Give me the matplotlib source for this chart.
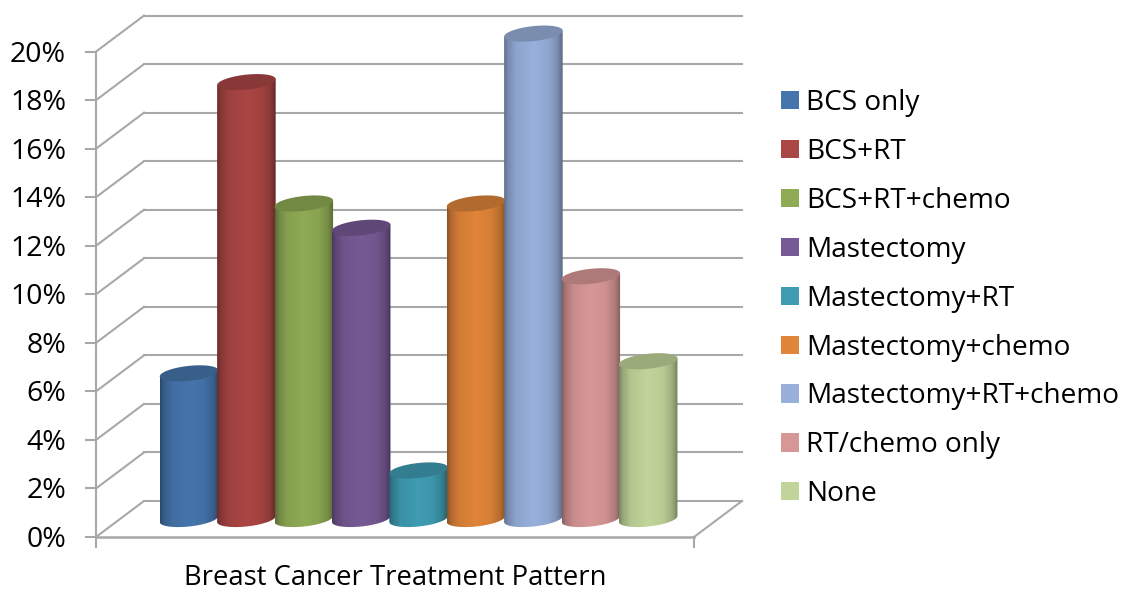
import numpy as np
import matplotlib
matplotlib.use("Agg")
import matplotlib.pyplot as plt
from matplotlib.patches import Polygon, Patch

categories = ["BCS only", "BCS+RT", "BCS+RT+chemo", "Mastectomy", "Mastectomy+RT",
              "Mastectomy+chemo", "Mastectomy+RT+chemo", "RT/chemo only", "None"]
values = [6, 18, 13, 12, 2, 13, 20, 10, 6.5]
colors = ["#4675ad", "#aa4644", "#8fab55", "#775a95", "#3f9cb3",
          "#e08539", "#98b0db", "#d89797", "#c1d59a"]
y_ticks = [0, 2, 4, 6, 8, 10, 12, 14, 16, 18, 20]
x_title = "Breast Cancer Treatment Pattern"

plt.rcParams["font.family"] = ["Open Sans", "DejaVu Sans"]

# one x unit is one category, y is percent
fig = plt.figure(figsize=(11.22, 5.9), dpi=100)
ax = fig.add_axes([0, 0, 1, 1])
ax.axis("off")

px_x = 57.4
px_y = 24.27
x_min = -189 / px_x
x_max = (1122 - 189) / px_x
y_base = 519 / px_y  # y of 0% at the middle of the floor

# floor box, in data units
front_l = (96 - 189) / px_x
front_r = (694 - 189) / px_x
dx = 48 / px_x
dy = 36 / px_y
front0 = -18 / px_y
grid = "#a8a8a8"
lw = 1.5

for t in y_ticks:
    y = front0 + t
    ax.plot([front_l, front_l + dx], [y, y + dy], color=grid, lw=lw, zorder=1)
    ax.plot([front_l + dx, front_r + dx], [y + dy, y + dy], color=grid, lw=lw, zorder=1)
    ax.plot([front_l - 10 / px_x, front_l], [y, y], color=grid, lw=lw, zorder=1)
    ax.text(front_l - 30 / px_x, y - 3 / px_y, f"{t}%", ha="right", va="center",
            fontsize=20.5, color="#000000")

ax.plot([front_l, front_l], [front0 - 10 / px_y, front0 + 20], color=grid, lw=lw, zorder=1)
ax.plot([front_l, front_r], [front0, front0], color=grid, lw=lw + 0.3, zorder=1)
ax.plot([front_r, front_r], [front0 - 10 / px_y, front0], color=grid, lw=lw, zorder=1)
ax.plot([front_r, front_r + dx], [front0, front0 + dy], color=grid, lw=lw, zorder=1)

# cylinders, left to right so each one sits over the previous
half = 0.51
b = 7.5 / px_y
tilt = 3 / px_y
theta = np.linspace(0, 2 * np.pi, 120)
lower = np.linspace(np.pi, 2 * np.pi, 60)
shade_x = np.linspace(0, 1, 200)
shade = np.interp(shade_x, [0, 0.06, 0.2, 0.5, 0.75, 0.9, 1],
                  [0.62, 0.78, 0.93, 1.0, 0.95, 0.82, 0.6])

for i, (v, c) in enumerate(zip(values, colors)):
    z = 3 + i
    rgb = np.array(matplotlib.colors.to_rgb(c))
    body_x = np.r_[i - half, i + half * np.cos(lower), i + half]
    # tilted ellipse: the right end sits a little higher than the left
    body_y = np.r_[v - tilt, b * np.sin(lower) + tilt * np.cos(lower), v + tilt]
    body = Polygon(np.c_[body_x, body_y], closed=True, transform=ax.transData,
                   facecolor="none", edgecolor="none")
    ax.add_patch(body)
    img = np.clip(rgb[None, None, :] * shade[None, :, None], 0, 1)
    im = ax.imshow(img, extent=[i - half, i + half, -b - tilt, v + tilt], aspect="auto",
                   interpolation="bilinear", zorder=z)
    im.set_clip_path(body)
    top = np.c_[i + half * np.cos(theta), v + b * np.sin(theta) + tilt * np.cos(theta)]
    ax.add_patch(Polygon(top, closed=True, facecolor=rgb * 0.8, edgecolor="none", zorder=z + 0.5))

ax.set_xlim(x_min, x_max)
ax.set_ylim(-(590 - 519) / px_y, y_base)

ax.text((395 - 189) / px_x, -(578 - 519) / px_y, x_title, ha="center", va="center",
        fontsize=19.8, color="#000000")

handles = [Patch(facecolor=c, edgecolor="none", label=n) for n, c in zip(categories, colors)]
ax.legend(handles=handles, loc="upper left", bbox_to_anchor=(781 / 1122, 1 - 89 / 590),
          frameon=False, fontsize=20.2, handlelength=0.65, handleheight=0.62,
          handletextpad=0.25, labelspacing=0.745, borderaxespad=0, borderpad=0)

plt.savefig("out.png", dpi=100)
